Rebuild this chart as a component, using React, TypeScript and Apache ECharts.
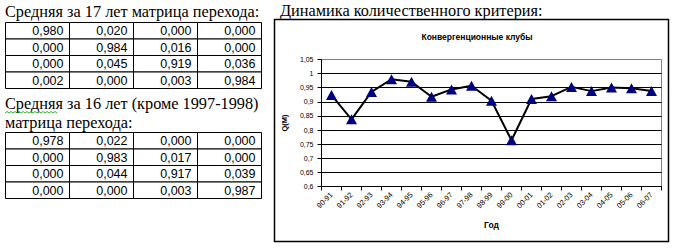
import { useEffect, useRef } from "react";
import * as echarts from "echarts";

const periods = [
  "90-91", "91-92", "92-93", "93-94", "94-95", "95-96", "96-97", "97-98", "98-99",
  "99-00", "00-01", "01-02", "02-03", "03-04", "04-05", "05-06", "06-07",
];
const qValues = [
  0.924, 0.838, 0.935, 0.98, 0.971, 0.918, 0.944, 0.957, 0.904,
  0.764, 0.91, 0.92, 0.953, 0.938, 0.951, 0.948, 0.938,
];
const matrix17 = [
  [0.98, 0.02, 0.0, 0.0],
  [0.0, 0.984, 0.016, 0.0],
  [0.0, 0.045, 0.919, 0.036],
  [0.002, 0.0, 0.003, 0.984],
];
const matrix16 = [
  [0.978, 0.022, 0.0, 0.0],
  [0.0, 0.983, 0.017, 0.0],
  [0.0, 0.044, 0.917, 0.039],
  [0.0, 0.0, 0.003, 0.987],
];
const yMin = 0.6;
const yMax = 1.05;
const yStep = 0.05;

const header17 = "Средняя за 17 лет матрица перехода:";
const header16a = "Средняя за 16 лет (кроме 1997-1998)";
const header16b = "матрица перехода:";
const rightHeader = "Динамика количественного критерия:";
const chartTitle = "Конвергенционные клубы";
const yName = "Q(M)";
const xName = "Год";

const SERIF = '"Liberation Serif", "Times New Roman", serif';
const SANS = '"Liberation Sans", Arial, sans-serif';

const fmtCell = (v: number) => v.toFixed(3).replace(".", ",");

function tableGraphics(m: number[][], left: number, top: number, colW: number, rowH: number) {
  const els: any[] = [];
  m.forEach((row, r) =>
    row.forEach((v, c) => {
      els.push({
        type: "rect",
        shape: { x: left + c * colW, y: top + r * rowH, width: colW, height: rowH },
        style: { fill: "#fff", stroke: "#000", lineWidth: 1 },
      });
      els.push({
        type: "text",
        x: left + (c + 1) * colW - 6,
        y: top + r * rowH + rowH / 2 + 0.5,
        style: {
          text: fmtCell(v),
          align: "right",
          verticalAlign: "middle",
          font: `12.5px ${SANS}`,
          fill: "#000",
        },
      });
    })
  );
  return els;
}

export default function App() {
  const ref = useRef<HTMLDivElement>(null);
  useEffect(() => {
    if (!ref.current) return;
    const chart = echarts.init(ref.current, null, { renderer: "svg" });
    const headerStyle = (text: string) => ({
      text,
      font: `16.3px ${SERIF}`,
      fill: "#000",
      align: "left",
      verticalAlign: "middle",
      lineHeight: 16,
    });
    const graphics: any[] = [
      { type: "text", x: 5, y: 11, style: headerStyle(header17) },
      ...tableGraphics(matrix17, 5.5, 22.5, 64, 16.5),
      { type: "text", x: 5, y: 103, style: headerStyle(header16a) },
      {
        type: "polyline",
        shape: {
          points: Array.from({ length: 27 }, (_, i) => [5 + i * 2, i % 2 === 0 ? 113 : 111.5]),
        },
        style: { stroke: "#00a000", lineWidth: 0.8, fill: "none" },
      },
      { type: "text", x: 5, y: 122, style: headerStyle(header16b) },
      ...tableGraphics(matrix16, 5.5, 132.5, 64, 16.5),
      { type: "text", x: 280, y: 10, style: headerStyle(rightHeader) },
      {
        type: "rect",
        z: -1,
        shape: { x: 274.5, y: 19.5, width: 394, height: 222 },
        style: { fill: "#fff", stroke: "#000", lineWidth: 1.5 },
      },
    ];

    chart.setOption({
      animation: false,
      backgroundColor: "#fff",
      title: {
        text: chartTitle,
        left: 472,
        top: 27,
        textAlign: "center",
        textStyle: { fontFamily: SANS, fontSize: 8.5, fontWeight: "bold", color: "#000" },
      },
      graphic: graphics,
      grid: {
        left: 321.5,
        top: 59.5,
        right: 13.5,
        bottom: 65.5,
        show: true,
        borderColor: "#808080",
        borderWidth: 1,
        backgroundColor: "transparent",
      },
      xAxis: {
        type: "category",
        data: periods,
        boundaryGap: true,
        name: xName,
        nameLocation: "middle",
        nameGap: 34,
        nameTextStyle: { fontFamily: SANS, fontSize: 8.5, fontWeight: "bold", color: "#000" },
        axisLine: { lineStyle: { color: "#000", width: 1 } },
        axisTick: { show: true, inside: false, length: 4, alignWithLabel: false, lineStyle: { color: "#000" } },
        axisLabel: {
          rotate: 45,
          interval: 0,
          margin: 7,
          fontFamily: SANS,
          fontSize: 7.5,
          color: "#000",
        },
        splitLine: { show: false },
      },
      yAxis: {
        type: "value",
        min: yMin,
        max: yMax,
        interval: yStep,
        name: yName,
        nameLocation: "middle",
        nameGap: 27,
        nameRotate: 90,
        nameTextStyle: { fontFamily: SANS, fontSize: 7.5, fontWeight: "bold", color: "#000" },
        axisLine: { show: true, lineStyle: { color: "#000", width: 1 } },
        axisTick: { show: true, inside: false, length: 4, lineStyle: { color: "#000" } },
        axisLabel: {
          margin: 8,
          fontFamily: SANS,
          fontSize: 7,
          color: "#000",
          formatter: (v: number) => String(Math.round(v * 100) / 100).replace(".", ","),
        },
        splitLine: { show: true, showMaxLine: false, lineStyle: { color: "#000", width: 1 } },
      },
      series: [
        {
          type: "line",
          data: qValues,
          symbol: "triangle",
          symbolSize: [11, 10],
          lineStyle: { color: "#000", width: 2 },
          itemStyle: { color: "#000080", borderWidth: 0 },
          z: 3,
        },
      ],
    });
    return () => chart.dispose();
  }, []);
  return (
    <div
      ref={ref}
      style={{ position: "fixed", left: 0, top: 0, width: 675, height: 252, background: "#fff" }}
    />
  );
}
